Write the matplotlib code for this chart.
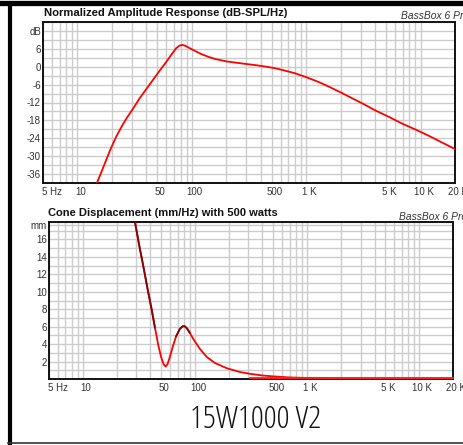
import matplotlib
matplotlib.use("Agg")
import matplotlib.pyplot as plt
import matplotlib.transforms as mtransforms
from matplotlib.lines import Line2D
from matplotlib import font_manager
from matplotlib.font_manager import FontProperties
from matplotlib.textpath import TextPath
import numpy as np

plt.rcParams['font.family'] = ['Liberation Sans', 'DejaVu Sans']

# ---------------- data ----------------
x_ticks = [5, 10, 50, 100, 500, 1000, 5000, 10000, 20000]
x_labels = ['5 Hz', '10', '50', '100', '500', '1 K', '5 K', '10 K', '20 K']

spl_ticks = [12, 6, 0, -6, -12, -18, -24, -30, -36]
spl_labels = ['dB', '6', '0', '-6', '-12', '-18', '-24', '-30', '-36']

mm_ticks = [17.6, 16, 14, 12, 10, 8, 6, 4, 2]
mm_labels = ['mm', '16', '14', '12', '10', '8', '6', '4', '2']

spl_freq = [14, 15, 17, 19.3, 22, 25, 27, 30, 35, 40, 46, 52, 60, 67, 73, 78,
            83, 88, 95, 103, 120, 140, 160, 200, 260, 350, 450, 550, 650, 800,
            1000, 1300, 1600, 2000, 2500, 3200, 4000, 5400, 7000, 9200, 12000,
            15000, 20000]
spl_db = [-41.5, -38.5, -33.3, -28.0, -23.2, -19.3, -17.2, -14.6, -10.6, -7.5,
          -4.3, -1.5, 1.7, 4.3, 6.2, 7.1, 7.3, 7.0, 6.3, 5.6, 4.3, 3.3, 2.6,
          1.8, 1.2, 0.6, 0.0, -0.6, -1.3, -2.2, -3.5, -5.2, -6.8, -8.6, -10.5,
          -12.6, -14.6, -17.0, -19.2, -21.2, -23.3, -25.2, -27.6]

disp_freq = [25, 29.2, 32, 34.7, 38, 41.1, 44, 47.1, 50, 52.5, 54.8, 57, 60,
             64.1, 68, 73.5, 78, 81, 85, 90, 96.6, 110, 127, 150, 192, 252, 309,
             400, 500, 700, 1000, 2000, 5000, 20000]
disp_mm = [24, 18, 15.2, 12.9, 10.2, 8.0, 5.9, 3.9, 2.5, 1.7, 1.43, 1.7, 2.6,
           3.9, 4.9, 5.76, 6.05, 6.05, 5.8, 5.3, 4.6, 3.5, 2.55, 1.85, 1.24,
           0.8, 0.6, 0.4, 0.3, 0.18, 0.12, 0.08, 0.06, 0.05]

dark_ranges = [(25, 46), (68, 95)]

title_top = 'Normalized Amplitude Response (dB-SPL/Hz)'
title_bot = 'Cone Displacement (mm/Hz) with 500 watts'
brand = 'BassBox 6 Pro'
model = '15W1000 V2'

# ---------------- figure ----------------
W, H = 463, 445
fig = plt.figure(figsize=(W / 100, H / 100), dpi=100)

grid_c = '#cccccc'
tick_c = '#333333'


def px_axes(l, t, r, b):
    return fig.add_axes([l / W, 1 - b / H, (r - l) / W, (b - t) / H])


def style_axes(ax):
    ax.set_xscale('log')
    ax.set_xlim(5, 20000)
    minor = [m * 10 ** e for e in range(0, 5) for m in range(1, 10)]
    minor = [v for v in minor if 5 <= v <= 20000]
    ax.set_xticks(minor, minor=True)
    ax.set_xticks(x_ticks)
    ax.set_xticklabels(x_labels)
    ax.grid(True, which='both', axis='x', color=grid_c, lw=1)
    ax.grid(True, which='both', axis='y', color=grid_c, lw=1)
    ax.tick_params(which='both', length=0, labelsize=7, colors=tick_c, pad=3)
    ax.tick_params(axis='y', pad=1.5)
    for s in ax.spines.values():
        s.set_color('#111111')
        s.set_linewidth(1.4)
    ax.set_axisbelow(True)
    off = mtransforms.ScaledTranslation(3 / 100, 0, fig.dpi_scale_trans)
    for i, lab in enumerate(ax.get_xticklabels()):
        if i == 0:
            lab.set_horizontalalignment('left')
            lab.set_transform(lab.get_transform() + mtransforms.ScaledTranslation(-1 / 100, 0, fig.dpi_scale_trans))
        else:
            lab.set_transform(lab.get_transform() + off)


# top axes
ax1 = px_axes(43, 22, 455, 183)
style_axes(ax1)
ax1.set_ylim(-39, 15)
ax1.set_yticks(spl_ticks)
ax1.set_yticklabels(spl_labels)
ax1.set_yticks(np.arange(-39, 16, 3), minor=True)
ax1.plot(spl_freq, spl_db, color='#ff0000', lw=1.3, zorder=3)

# bottom axes
ax2 = px_axes(49, 222, 453, 379)
style_axes(ax2)
ax2.set_ylim(0, 18)
ax2.set_yticks(mm_ticks)
ax2.set_yticklabels(mm_labels)
ax2.set_yticks(np.arange(0, 19, 1), minor=True)
ax2.plot(disp_freq, disp_mm, color='#ff0000', lw=1.3, zorder=5, clip_on=True)
df = np.array(disp_freq)
dm = np.array(disp_mm)
for lo, hi in dark_ranges:
    m = (df >= lo) & (df <= hi)
    ax2.plot(df[m], dm[m], color='#7a0a0a', lw=1.3, zorder=6)
ax2.plot(df[df >= 300], np.zeros(np.sum(df >= 300)) + 0.1, color='#ff2020', lw=1.3,
         zorder=7, clip_on=False)

# titles
fig.text(44 / W, 1 - 13 / H, title_top, fontsize=8.1, fontweight='bold',
         ha='left', va='center', color='#111111')
fig.text(48 / W, 1 - 213 / H, title_bot, fontsize=8, fontweight='bold',
         ha='left', va='center', color='#111111')
fig.text(401 / W, 1 - 16 / H, brand, fontsize=7.4, style='italic',
         ha='left', va='center', color='#333333')
fig.text(399 / W, 1 - 217 / H, brand, fontsize=7.4, style='italic',
         ha='left', va='center', color='#333333')

# ---- model name: pick the narrowest-looking installed sans font ----
target_w, target_h = 122.0, 23.0
allowed = ('DejaVu', 'Liberation Sans', 'Noto Sans', 'Roboto', 'Open Sans', 'Lato', 'Inter')
best = None
for fe in font_manager.fontManager.ttflist:
    if not fe.name.startswith(allowed) or 'CJK' in fe.name or 'Mono' in fe.name:
        continue
    if fe.style != 'normal':
        continue
    try:
        w_ = fe.weight if isinstance(fe.weight, int) else 400
    except Exception:
        w_ = 400
    if w_ > 450:
        continue
    try:
        fp = FontProperties(fname=fe.fname)
        tp = TextPath((0, 0), model, size=100, prop=fp)
        ext = tp.get_extents()
        hp = TextPath((0, 0), '1', size=100, prop=fp).get_extents().height
    except Exception:
        continue
    if hp <= 0:
        continue
    ratio = ext.width / hp
    score = abs(ratio - target_w / target_h) + 0.002 * abs(w_ - 300)
    if best is None or score < best[0]:
        best = (score, fe.fname, hp / 100.0)

if best is not None:
    fp = FontProperties(fname=best[1])
    size_pt = target_h / best[2] * 72 / 100
    fp.set_size(size_pt)
    fig.text(256 / W, 1 - 419.5 / H, model, fontproperties=fp,
             ha='center', va='center', color='#111111')
else:
    fig.text(256 / W, 1 - 419.5 / H, model, fontsize=20,
             ha='center', va='center', color='#111111')

# frame decorations
fig.add_artist(Line2D([0, 1], [1 - 2.5 / H, 1 - 2.5 / H], transform=fig.transFigure,
                      color='black', lw=3.8))
fig.add_artist(Line2D([9.5 / W, 9.5 / W], [1 - 5 / H, 1 - 443 / H], transform=fig.transFigure,
                      color='black', lw=3))
fig.add_artist(Line2D([8 / W, 1], [1 - 443 / H, 1 - 443 / H], transform=fig.transFigure,
                      color='#333333', lw=1.2))

fig.savefig('out.png', dpi=100)
